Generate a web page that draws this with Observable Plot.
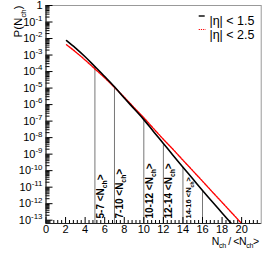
<!DOCTYPE html>
<html><head><meta charset="utf-8">
<script src="https://cdn.jsdelivr.net/npm/d3@7"></script>
<script src="https://cdn.jsdelivr.net/npm/@observablehq/plot@0.6"></script>
<style>body{margin:0;background:#fff} svg{display:block}</style>
</head><body><div id="chart"></div>
<script>
// |eta| < 1.5 (black solid)
const xBlack = [2.1, 3, 4, 5, 6, 7, 8, 9, 10, 11, 12, 13, 14, 15, 16, 17, 18, 19];
const pBlack = [7.6e-3, 2.75e-3, 7.9e-4, 2.0e-4, 5.0e-5, 1.2e-5, 2.5e-6, 5.6e-7, 1.23e-7, 2.3e-8, 4.4e-9, 8.3e-10, 1.6e-10, 3.2e-11, 6.3e-12, 1.3e-12, 2.75e-13, 5.8e-14];
// |eta| < 2.5 (red dotted)
const xRed = [2.1, 3, 4, 5, 6, 7, 8, 9, 10, 11, 12, 13, 14, 15, 16, 17, 18, 19, 20, 20.5];
const pRed = [4.2e-3, 1.6e-3, 5.0e-4, 1.45e-4, 4.2e-5, 1.1e-5, 2.8e-6, 6.6e-7, 1.6e-7, 3.5e-8, 7.9e-9, 1.9e-9, 4.3e-10, 1.0e-10, 2.3e-11, 5.2e-12, 1.2e-12, 2.75e-13, 6.3e-14, 3.0e-14];
// bin boundaries (vertical lines up to the black curve)
const binEdges = [5, 7, 10, 12, 14, 16];
const binTops = [2.0e-4, 1.2e-5, 1.23e-7, 4.4e-9, 1.6e-10, 6.3e-12];
const binLabels = ["5-7 <N_{ch}>", "7-10 <N_{ch}>", "10-12 <N_{ch}>", "12-14 <N_{ch}>", "14-16 <N_{ch}>"];
const xTicks = [0, 2, 4, 6, 8, 10, 12, 14, 16, 18, 20];
const yTickExps = [0, -1, -2, -3, -4, -5, -6, -7, -8, -9, -10, -11, -12, -13];
const legendLabels = ["|η| < 1.5", "|η| < 2.5"];
const xLabel = "N_{ch} / <N_{ch}>";
const yLabel = "P(N_{ch})";

const black = xBlack.map((x, i) => ({x, p: pBlack[i]}));
const red = xRed.map((x, i) => ({x, p: pRed[i]}));
const bins = binEdges.map((x, i) => ({x, top: binTops[i]}));

const W = 266, H = 255, mL = 45.5, mR = 5.3, mT = 5, mB = 32;
const fW = W - mL - mR, fH = H - mT - mB;
const yMin = 10 ** -13.2, yMax = 1;
const majorY = yTickExps.map(k => 10 ** k);
const minorY = [];
for (let k = -14; k <= -1; k++) for (let m = 2; m <= 9; m++) { const v = m * 10 ** k; if (v >= yMin && v <= yMax) minorY.push(v); }
const minorX = d3.range(0, 22.001, 0.4).filter(v => Math.abs(v / 2 - Math.round(v / 2)) > 1e-6);

function legendLines(index, scales, values, dims) {
  const g = d3.create("svg:g");
  const right = dims.width - dims.marginRight;
  g.append("line").attr("x1", right - 62).attr("x2", right - 56).attr("y1", dims.marginTop + 11).attr("y2", dims.marginTop + 11)
    .attr("stroke", "#000").attr("stroke-width", 1.4);
  g.append("line").attr("x1", right - 62).attr("x2", right - 55).attr("y1", dims.marginTop + 24.5).attr("y2", dims.marginTop + 24.5)
    .attr("stroke", "#f00").attr("stroke-width", 1.2).attr("stroke-dasharray", "1.2,1");
  return g.node();
}

const svg = Plot.plot({
  width: W, height: H,
  marginLeft: mL, marginRight: mR, marginTop: mT, marginBottom: mB,
  x: {domain: [0, 22]},
  y: {type: "log", domain: [yMin, yMax]},
  style: {fontFamily: "'Liberation Sans', Arial, Helvetica, sans-serif", fontSize: "11px", background: "#fff", color: "#000", overflow: "visible"},
  marks: [
    Plot.frame({stroke: "#999"}),
    Plot.ruleX(bins, {x: "x", y1: yMin, y2: "top", stroke: "#777", strokeWidth: 1}),
    Plot.line(red, {x: "x", y: "p", stroke: "#f00", strokeWidth: 1.4, strokeDasharray: "1.6,1.2", curve: "monotone-x", clip: true}),
    Plot.line(black, {x: "x", y: "p", stroke: "#000", strokeWidth: 1.6, curve: "monotone-x", clip: true}),
    Plot.tickY(majorY, {y: d => d, insetRight: fW - 7, stroke: "#000"}),
    Plot.tickY(minorY, {y: d => d, insetRight: fW - 4, stroke: "#000"}),
    Plot.tickX(xTicks, {x: d => d, insetTop: fH - 6, stroke: "#000"}),
    Plot.tickX(minorX, {x: d => d, insetTop: fH - 3, stroke: "#000"}),
    Plot.ruleX([0], {stroke: "#222"}),
    Plot.ruleY([yMin], {stroke: "#222"}),
    Plot.axisY({ticks: majorY, tickSize: 0, tickPadding: 3.5, label: null,
      tickFormat: d => { const k = Math.round(Math.log10(d)); return k === 0 ? "1" : `10^{${k}}`; }}),
    Plot.axisX({ticks: xTicks, tickSize: 0, tickPadding: 1.5, label: null}),
    Plot.text(binLabels.slice(0, 4), {x: (d, i) => binEdges[i] + 0.9, frameAnchor: "bottom", dy: -5, rotate: -90, textAnchor: "start", fontWeight: "bold", fontSize: 10, text: d => d}),
    Plot.text(binLabels.slice(4), {x: (d, i) => binEdges[i + 4] + 0.85, frameAnchor: "bottom", dy: -5, rotate: -90, textAnchor: "start", fontWeight: "bold", fontSize: 7.5, text: d => d}),
    Plot.text([legendLabels[0]], {frameAnchor: "top-right", dx: -6.7, dy: 11, textAnchor: "end", fontSize: 12.5, text: d => d}),
    Plot.text([legendLabels[1]], {frameAnchor: "top-right", dx: -6.7, dy: 24.5, textAnchor: "end", fontSize: 12.5, text: d => d}),
    legendLines,
    Plot.text([yLabel], {frameAnchor: "top-left", dx: -32, rotate: -90, textAnchor: "end", fontSize: 11.5, text: d => d}),
    Plot.text([xLabel], {frameAnchor: "bottom-right", dx: -2.5, dy: 21.5, textAnchor: "end", fontSize: 10.5, text: d => d})
  ]
});
document.getElementById("chart").append(svg);

// tighten the x-axis title like the reference
svg.querySelectorAll("text").forEach(t => { if (t.textContent === xLabel) t.setAttribute("letter-spacing", "-0.4"); });

function richify(root) {
  root.querySelectorAll("text").forEach(t => {
    const s = t.textContent;
    if (!/[\^_]\{/.test(s)) return;
    const fs = parseFloat(getComputedStyle(t).fontSize) || 11;
    const parts = s.split(/([\^_]\{[^}]*\})/);
    while (t.firstChild) t.removeChild(t.firstChild);
    let shift = 0;
    for (const part of parts) {
      if (!part) continue;
      let txt = part, target = 0, size = null;
      if (part[0] === "^") { txt = part.slice(2, -1); target = -0.42 * fs; size = 0.72 * fs; }
      else if (part[0] === "_") { txt = part.slice(2, -1); target = 0.3 * fs; size = 0.68 * fs; }
      const ts = document.createElementNS("http://www.w3.org/2000/svg", "tspan");
      const dy = target - shift;
      if (dy) ts.setAttribute("dy", dy.toFixed(2));
      if (size) ts.setAttribute("font-size", size.toFixed(2));
      ts.textContent = txt;
      t.appendChild(ts);
      shift = target;
    }
  });
}
richify(svg);
</script>
</body></html>
